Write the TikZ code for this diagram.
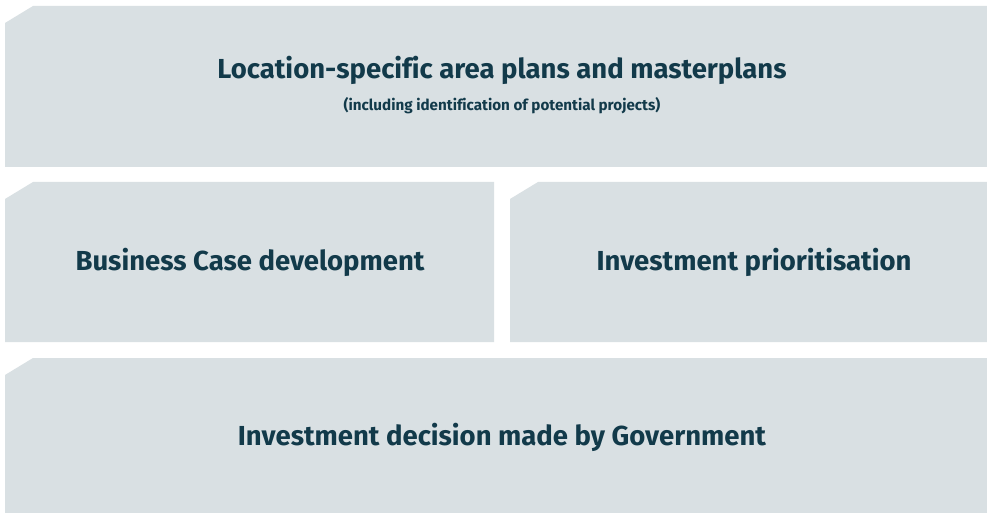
\documentclass[tikz,border=0pt]{standalone}
\usepackage{fontspec}
\setmainfont{Fira Sans}[Ligatures=NoCommon]
\definecolor{boxfill}{HTML}{D9E0E3}
\definecolor{txt}{HTML}{123A4A}
\begin{document}
\begin{tikzpicture}[x=1pt,y=-1pt,
  panel/.style={fill=boxfill,draw=none},
  title/.style={text=txt,font=\bfseries\fontsize{27.5}{32}\selectfont,inner sep=0pt,anchor=center},
  subtitle/.style={text=txt,font=\bfseries\fontsize{15.2}{18}\selectfont,inner sep=0pt,anchor=center}]
\useasboundingbox (0,0) rectangle (987,513);
\fill[white] (0,0) rectangle (987,513);
\path[panel] (5,23) -- (33,6) -- (987,6) -- (987,167) -- (5,167) -- cycle;
\path[panel] (5,199) -- (33,182) -- (494,182) -- (494,342) -- (5,342) -- cycle;
\path[panel] (510,199) -- (538,182) -- (987,182) -- (987,342) -- (510,342) -- cycle;
\path[panel] (5,375) -- (33,358) -- (987,358) -- (987,513) -- (5,513) -- cycle;
\node[title] (t1) at (502,70) {Location-specific area plans and masterplans};
\node[subtitle] (s1) at (502,106) {(including identification of potential projects)};
\node[title] (t2) at (250,262) {Business Case development};
\node[title] (t3) at (754,262) {Investment prioritisation};
\node[title] (t4) at (502,437) {Investment decision made by Government};
\end{tikzpicture}
\end{document}
